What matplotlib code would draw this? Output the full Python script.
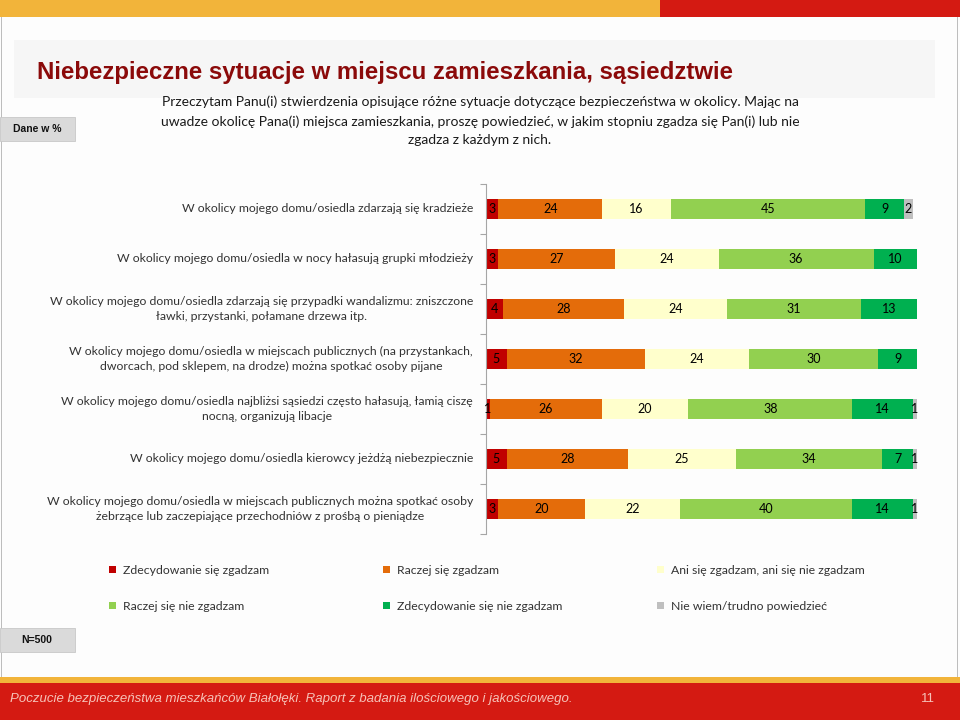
import matplotlib.pyplot as plt
from matplotlib.patches import Rectangle
import numpy as np

# statements (top to bottom)
labels = [
    'W okolicy mojego domu/osiedla zdarzają się kradzieże',
    'W okolicy mojego domu/osiedla w nocy hałasują grupki młodzieży',
    'W okolicy mojego domu/osiedla zdarzają się przypadki wandalizmu: zniszczone\nławki, przystanki, połamane drzewa itp.',
    'W okolicy mojego domu/osiedla w miejscach publicznych (na przystankach,\ndworcach, pod sklepem, na drodze) można spotkać osoby pijane',
    'W okolicy mojego domu/osiedla najbliżsi sąsiedzi często hałasują, łamią ciszę\nnocną, organizują libacje',
    'W okolicy mojego domu/osiedla kierowcy jeżdżą niebezpiecznie',
    'W okolicy mojego domu/osiedla w miejscach publicznych można spotkać osoby\nżebrzące lub zaczepiające przechodniów z prośbą o pieniądze',
]

series_names = ['Zdecydowanie się zgadzam', 'Raczej się zgadzam',
                'Ani się zgadzam, ani się nie zgadzam', 'Raczej się nie zgadzam',
                'Zdecydowanie się nie zgadzam', 'Nie wiem/trudno powiedzieć']
colors = ['#C00000', '#E46C0A', '#FFFFCC', '#92D050', '#00B050', '#BFBFBF']

zdecydowanie_tak = [3, 3, 4, 5, 1, 5, 3]
raczej_tak = [24, 27, 28, 32, 26, 28, 20]
ani = [16, 24, 24, 24, 20, 25, 22]
raczej_nie = [45, 36, 31, 30, 38, 34, 40]
zdecydowanie_nie = [9, 10, 13, 9, 14, 7, 14]
nie_wiem = [2, 0, 0, 0, 1, 1, 1]

values = [zdecydowanie_tak, raczej_tak, ani, raczej_nie, zdecydowanie_nie, nie_wiem]

W, H = 960, 720
fig = plt.figure(figsize=(9.6, 7.2), dpi=100)
fig.patch.set_facecolor('#FDFDFD')


def px_rect(x, y, w, h, **kw):
    # rectangle in pixel coords (origin top-left)
    fig.patches.append(Rectangle((x / W, 1 - (y + h) / H), w / W, h / H,
                                 transform=fig.transFigure, figure=fig, **kw))


# slide decoration
px_rect(0, 0, 660, 17, color='#F2B43A', lw=0)
px_rect(660, 0, 300, 17, color='#D41A12', lw=0)
px_rect(14, 40, 921, 58, color='#F6F6F6', lw=0)
px_rect(1, 17, 0.8, 662, color='#BDBDBD', lw=0)
px_rect(957, 17, 1.2, 662, color='#BDBDBD', lw=0)
px_rect(0, 677, 960, 6, color='#F2B43A', lw=0)
px_rect(0, 683, 960, 37, color='#D41A12', lw=0)
px_rect(0, 117, 75, 24, facecolor='#DADADA', edgecolor='#C8C8C8', lw=0.6)
px_rect(0, 628, 75, 24, facecolor='#DADADA', edgecolor='#C8C8C8', lw=0.6)

fig.text(37 / W, 1 - 72 / H, 'Niebezpieczne sytuacje w miejscu zamieszkania, sąsiedztwie',
         fontsize=17.3, fontweight='bold', color='#8B0A0A', family='Liberation Sans',
         va='center', ha='left')
fig.text(37 / W, 1 - 129 / H, 'Dane w %', fontsize=7.5, fontweight='bold',
         family='Liberation Sans', va='center', ha='center', color='#111111')
fig.text(37 / W, 1 - 640 / H, 'N=500', fontsize=7.5, fontweight='bold',
         family='Liberation Sans', va='center', ha='center', color='#111111')
fig.text(480 / W, 1 - 121 / H,
         'Przeczytam Panu(i) stwierdzenia opisujące różne sytuacje dotyczące bezpieczeństwa w okolicy. Mając na\n'
         'uwadze okolicę Pana(i) miejsca zamieszkania, proszę powiedzieć, w jakim stopniu zgadza się Pan(i) lub nie\n'
         'zgadza z każdym z nich.',
         fontsize=10, family='Lato', ha='center', va='center', color='#1A1A1A',
         linespacing=1.65)
fig.text(10 / W, 1 - 699 / H,
         'Poczucie bezpieczeństwa mieszkańców Białołęki. Raport z badania ilościowego i jakościowego.',
         fontsize=9.5, style='italic', family='Liberation Sans', color='#F6C2B8',
         va='center', ha='left')
fig.text(928 / W, 1 - 699 / H, '11', fontsize=9.5, family='Liberation Sans',
         color='#F6C2B8', va='center', ha='center')

# bar chart
ax = fig.add_axes([485.5 / W, 1 - 534 / H, 431.5 / W, 350 / H])
ax.set_facecolor('none')
y = np.arange(len(labels))
left = np.zeros(len(labels))
for name, vals, c in zip(series_names, values, colors):
    vals = np.array(vals, dtype=float)
    ax.barh(y, vals, left=left, height=0.4, color=c, lw=0)
    for yi, (l, v) in enumerate(zip(left, vals)):
        if v > 0:
            ax.text(l + v / 2, yi, f'{int(v)}', ha='center', va='center',
                    fontsize=9, family='Lato', color='#000000')
    left += vals

ax.set_xlim(0, 100)
ax.set_ylim(len(labels) - 0.5, -0.5)
ax.set_xticks([])
ax.set_yticks(np.arange(len(labels) + 1) - 0.5)
ax.set_yticklabels([])
ax.tick_params(axis='y', length=4, color='#A6A6A6', width=0.8)
for s in ['top', 'right', 'bottom']:
    ax.spines[s].set_visible(False)
ax.spines['left'].set_color('#A6A6A6')
ax.spines['left'].set_linewidth(0.8)

for yi, lab in enumerate(labels):
    ax.text(-2.9, yi, lab, ha='right', va='center', multialignment='center',
            fontsize=8.8, family='Lato', color='#333333', linespacing=1.4)

# legend, laid out as on the slide
leg_x = [113, 387, 661]
leg_y = [570, 606]
for i, (name, c) in enumerate(zip(series_names, colors)):
    lx, ly = leg_x[i % 3], leg_y[i // 3]
    px_rect(lx - 4, ly - 4, 7, 7, color=c, lw=0)
    fig.text((lx + 10) / W, 1 - ly / H, name, fontsize=8.8, family='Lato',
             color='#333333', va='center', ha='left')

fig.savefig('out.png', dpi=100, facecolor=fig.get_facecolor())
